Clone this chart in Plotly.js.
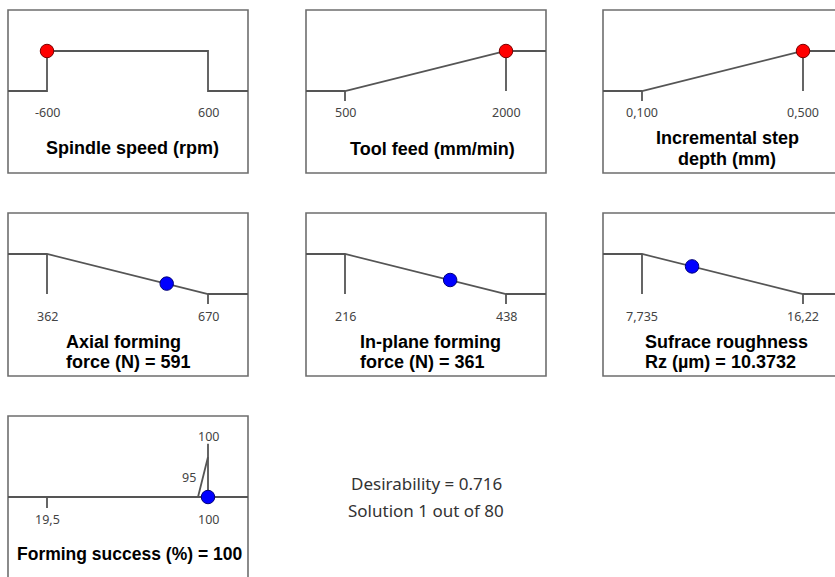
<!DOCTYPE html>
<html><head><meta charset="utf-8">
<script src="https://cdn.plot.ly/plotly-3.0.1.min.js"></script>
<style>html,body{margin:0;padding:0;background:#fff}#chart{width:835px;height:577px}</style>
</head><body><div id="chart"></div>
<script>
// ---- data ----
const panelTitles = [
  ['Spindle speed (rpm)'],
  ['Tool feed (mm/min)'],
  ['Incremental step', 'depth (mm)'],
  ['Axial forming', 'force (N) = 591'],
  ['In-plane forming', 'force (N) = 361'],
  ['Sufrace roughness', 'Rz (µm) = 10.3732'],
  ['Forming success (%) = 100']
];
const goals = ['range', 'max', 'max', 'min', 'min', 'min', 'max'];
const lowLimits = [-600, 500, 0.1, 362, 216, 7.735, 95];
const highLimits = [600, 2000, 0.5, 670, 438, 16.22, 100];
const axisLow = [-600, 500, 0.1, 362, 216, 7.735, 19.5];
const axisHigh = [600, 2000, 0.5, 670, 438, 16.22, 100];
const axisLowLabels = ['-600', '500', '0,100', '362', '216', '7,735', '19,5'];
const axisHighLabels = ['600', '2000', '0,500', '670', '438', '16,22', '100'];
const goalLowLabels = [null, null, null, null, null, null, '95'];
const goalHighLabels = [null, null, null, null, null, null, '100'];
const solutionValues = [-600, 2000, 0.5, 591, 361, 10.3732, 100];
const solutionDesirability = [1, 1, 1, 0.26, 0.35, 0.69, 0];
const pointColors = ['#ff0000', '#ff0000', '#ff0000', '#0000ff', '#0000ff', '#0000ff', '#0000ff'];
const pointEdges = ['#7a0000', '#7a0000', '#7a0000', '#00007a', '#00007a', '#00007a', '#00007a'];
const summaryLines = ['Desirability = 0.716', 'Solution 1 out of 80'];

// ---- layout geometry (pixels) ----
const W = 835, H = 577;
const BOX_W = 240, BOX_H = 163;
const SCALE_OFF = 39, SCALE_SPAN = 161;
const LOW_OFF = 81, D_PX = 40;
const TICK = 0.25;
const boxLeft = [8, 306, 603, 8, 306, 603, 8];
const boxTop = [10, 10, 10, 213, 213, 213, 416];
const titleMode = ['center', 'center', 'center', 'left', 'left', 'left', 'center'];
const titleXOff = [124, 126, 124, 56, 52, 40, 121];
const titleYOff = [[138], [139], [128, 149], [129, 149], [129, 149], [129, 149], [138]];

const px = x => x / W;
const py = y => 1 - y / H;

const traces = [], shapes = [], annotations = [];
const layout = {
  width: W, height: H, margin: {l: 0, r: 0, t: 0, b: 0},
  paper_bgcolor: '#fff', plot_bgcolor: 'rgba(0,0,0,0)', showlegend: false
};
const LINE = {color: '#555', width: 1.8};
const tickFont = {family: 'Noto Sans, sans-serif', size: 12.5, color: '#444'};
const titleFont = {family: 'Liberation Sans, Arial, sans-serif', size: 18, color: '#000', weight: 'bold'};

for (let i = 0; i < 7; i++) {
  const ax = i === 0 ? '' : String(i + 1);
  const L = boxLeft[i], T = boxTop[i];
  const R = Math.min(L + BOX_W, W), B = Math.min(T + BOX_H, H);
  const k = SCALE_SPAN / (axisHigh[i] - axisLow[i]);
  const xr0 = axisLow[i] - SCALE_OFF / k;
  const xr1 = axisLow[i] + (R - L - SCALE_OFF) / k;
  const yTop = LOW_OFF / D_PX;
  const yBot = -(B - T - LOW_OFF) / D_PX;
  layout['xaxis' + ax] = {domain: [px(L), px(R)], range: [xr0, xr1], visible: false, fixedrange: true, anchor: 'y' + ax};
  layout['yaxis' + ax] = {domain: [py(B), py(T)], range: [yBot, yTop], visible: false, fixedrange: true, anchor: 'x' + ax};

  const lo = lowLimits[i], hi = highLimits[i];
  let xs, ys;
  if (goals[i] === 'range') {
    xs = [xr0, lo, lo, hi, hi, xr1];
    ys = [0, 0, 1, 1, 0, 0];
  } else if (goals[i] === 'max' && axisLow[i] === lo) {
    xs = [xr0, lo, hi, xr1, null, hi, hi, null, lo, lo];
    ys = [0, 0, 1, 1, null, 1, 0, null, 0, -TICK];
  } else if (goals[i] === 'min') {
    xs = [xr0, lo, hi, xr1, null, lo, lo, null, hi, hi];
    ys = [1, 1, 0, 0, null, 1, 0, null, 0, -TICK];
  } else {
    xs = [xr0, xr1, null, lo, hi, null, hi, hi, null, axisLow[i], axisLow[i]];
    ys = [0, 0, null, 0, 1, null, 1.33, 0, null, 0, -TICK * 1.1];
  }
  traces.push({x: xs, y: ys, xaxis: 'x' + ax, yaxis: 'y' + ax, mode: 'lines', line: LINE, hoverinfo: 'skip'});
  traces.push({x: [solutionValues[i]], y: [solutionDesirability[i]], xaxis: 'x' + ax, yaxis: 'y' + ax,
    mode: 'markers', marker: {size: 13.5, color: pointColors[i], line: {color: pointEdges[i], width: 1}}, hoverinfo: 'skip'});

  shapes.push({type: 'rect', xref: 'paper', yref: 'paper', x0: px(L), x1: px(L + BOX_W), y0: py(T + BOX_H), y1: py(T),
    line: {color: '#6e6e6e', width: 1.6}, fillcolor: 'rgba(0,0,0,0)', layer: 'below'});

  [[axisLow[i], axisLowLabels[i]], [axisHigh[i], axisHighLabels[i]]].forEach(([v, t]) => {
    annotations.push({x: v, y: -0.55, xref: 'x' + ax, yref: 'y' + ax, text: t, showarrow: false,
      font: tickFont, xanchor: 'center', yanchor: 'middle'});
  });
  if (goalLowLabels[i]) {
    annotations.push({x: lo, y: 0.5, xref: 'x' + ax, yref: 'y' + ax, text: goalLowLabels[i], showarrow: false,
      font: tickFont, xanchor: 'right', yanchor: 'middle'});
  }
  if (goalHighLabels[i]) {
    annotations.push({x: hi, y: 1.525, xref: 'x' + ax, yref: 'y' + ax, text: goalHighLabels[i], showarrow: false,
      font: tickFont, xanchor: 'center', yanchor: 'middle'});
  }

  panelTitles[i].forEach((line, j) => {
    annotations.push({x: px(L + titleXOff[i]), y: py(T + titleYOff[i][j]), xref: 'paper', yref: 'paper',
      text: line, showarrow: false, font: i === 6 ? Object.assign({}, titleFont, {size: 17.5}) : titleFont,
      xanchor: titleMode[i] === 'left' ? 'left' : 'center', yanchor: 'middle'});
  });
}

summaryLines.forEach((t, j) => {
  annotations.push({x: px(426), y: py(483 + 27 * j), xref: 'paper', yref: 'paper', text: t, showarrow: false,
    font: {family: 'Noto Sans, sans-serif', size: 17, color: '#333'}, xanchor: 'center', yanchor: 'middle'});
});

layout.shapes = shapes;
layout.annotations = annotations;
Plotly.newPlot('chart', traces, layout, {staticPlot: true, displayModeBar: false});
</script>
</body></html>
